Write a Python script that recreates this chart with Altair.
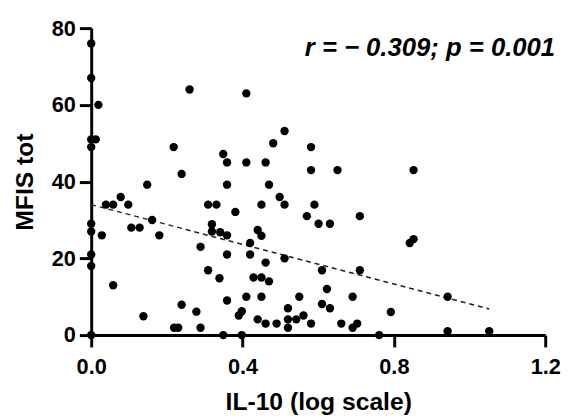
import altair as alt
import pandas as pd

# IL-10 (log scale) values
x_vals = [0, 0, 0.019, 0, 0.012, 0, 0, 0, 0, 0, 0,
          0.028, 0.039, 0.058, 0.078, 0.098, 0.106, 0.128, 0.148, 0.161, 0.18,
          0.058, 0.138, 0.218, 0.239, 0.26, 0.239, 0.278, 0.219, 0.23, 0.289,
          0.289, 0.309, 0.331, 0.319, 0.319, 0.341, 0.309, 0.339, 0.349, 0.359,
          0.359, 0.359, 0.359, 0.359, 0.349, 0.381, 0.41, 0.41, 0.42, 0.42,
          0.41, 0.398, 0.39, 0.398, 0.44, 0.45, 0.45, 0.461, 0.47, 0.461,
          0.429, 0.45, 0.47, 0.45, 0.44, 0.461, 0.481, 0.511, 0.498, 0.511,
          0.49, 0.511, 0.52, 0.52, 0.52, 0.542, 0.55, 0.561, 0.581, 0.581,
          0.59, 0.57, 0.601, 0.631, 0.61, 0.623, 0.61, 0.631, 0.581, 0.651,
          0.661, 0.691, 0.691, 0.703, 0.71, 0.71, 0.761, 0.792, 0.842, 0.852,
          0.852, 0.942, 0.942, 1.052]
# MFIS tot values
y_vals = [76, 67, 60, 51, 51, 49, 29, 27, 21, 18, 0,
          26, 34, 34, 36, 34, 28, 28, 39.2, 30, 26,
          13, 4.9, 49, 42, 64, 7.9, 6.1, 1.9, 1.9, 1.9,
          23, 34, 34, 28.9, 27, 26.8, 16.9, 14.8, 47.2, 45,
          39.2, 26, 21, 9, 0, 32.1, 63, 45, 24, 21,
          10, 6.2, 5.1, 0, 27.4, 25.9, 34, 45, 39.2, 18.9,
          15, 15, 14, 10, 4.1, 3, 50, 53.2, 36, 34,
          3, 20, 7, 4.1, 1.9, 4.1, 10, 5.1, 49, 43,
          34, 31, 29, 29, 16.9, 12, 8.1, 7, 3, 43,
          3, 10, 1.9, 3, 31, 16.9, 0, 6, 24, 25,
          43, 10, 1, 1]

# regression line end points
fit_x = [0.0, 1.052]
fit_y = [34.0, 6.8]

annotation = "r = \u2212 0.309; p = 0.001"

pts = pd.DataFrame({"x": x_vals, "y": y_vals})
fit = pd.DataFrame({"x": fit_x, "y": fit_y})

FONT = "Liberation Sans"

xscale = alt.Scale(domain=[0, 1.2], nice=False, zero=False)
yscale = alt.Scale(domain=[0, 80], nice=False, zero=False)

xaxis = alt.Axis(values=[0, 0.4, 0.8, 1.2], format=".1f", title="IL-10 (log scale)",
                 labelFlush=False, grid=False, titlePadding=12)
yaxis = alt.Axis(values=[0, 20, 40, 60, 80], title="MFIS tot", grid=False,
                 titlePadding=14)

points = alt.Chart(pts).mark_circle(size=72, color="black", opacity=1).encode(
    x=alt.X("x:Q", scale=xscale, axis=xaxis),
    y=alt.Y("y:Q", scale=yscale, axis=yaxis),
)

line = alt.Chart(fit).mark_line(color="#222222", strokeWidth=1.5, strokeDash=[5, 4]).encode(
    x=alt.X("x:Q", scale=xscale),
    y=alt.Y("y:Q", scale=yscale),
)

text = alt.Chart(pd.DataFrame({"t": [annotation]})).mark_text(
    font=FONT, fontSize=26, fontWeight="bold", fontStyle="italic",
    align="right", baseline="alphabetic", color="black"
).encode(text="t:N", x=alt.value(470), y=alt.value(28))

chart = alt.layer(line, points, text).properties(
    width=460, height=311,
    autosize=alt.AutoSizeParams(type="none"),
    padding={"left": 84.3, "top": 17.7, "right": 17, "bottom": 81},
).configure_view(stroke=None).configure_axis(
    domainColor="black", domainWidth=3, tickColor="black", tickWidth=3,
    tickSize=12, labelFont=FONT, labelFontSize=22, labelFontWeight="bold",
    labelColor="black", labelPadding=4, titleFont=FONT, titleFontSize=25,
    titleFontWeight="bold", titleColor="black"
).configure_axisX(labelPadding=10)

chart.save("out.html", embed_options={"renderer": "svg", "actions": False})
